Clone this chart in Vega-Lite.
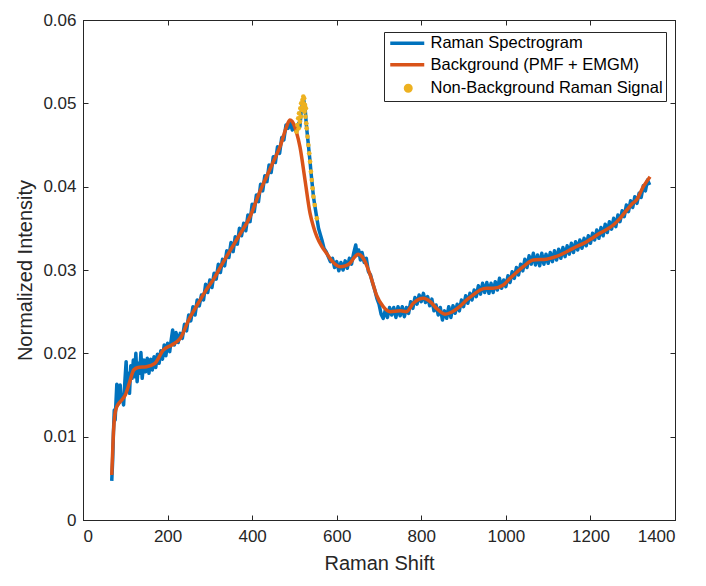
{
  "$schema": "https://vega.github.io/schema/vega-lite/v6.json",
  "width": 592,
  "height": 500,
  "autosize": "none",
  "padding": {"left": 83, "top": 20, "right": 31, "bottom": 66},
  "datasets": {
    "raman": [
      {"x":68,"y":0.0047},{"x":70,"y":0.0070},{"x":72,"y":0.0105},{"x":74,"y":0.0132},{"x":76,"y":0.0120},{"x":78,"y":0.0142},{"x":80,"y":0.0163},{"x":82,"y":0.0138},{"x":84,"y":0.0160},{"x":86,"y":0.0141},{"x":88,"y":0.0162},{"x":90,"y":0.0144},{"x":93,"y":0.0147},{"x":96,"y":0.0138},{"x":99,"y":0.0166},{"x":102,"y":0.0190},{"x":104,"y":0.0158},{"x":107,"y":0.0176},{"x":110,"y":0.0152},{"x":113,"y":0.0185},{"x":116,"y":0.0170},{"x":119,"y":0.0192},{"x":122,"y":0.0172},{"x":125,"y":0.0200},{"x":128,"y":0.0166},{"x":131,"y":0.0188},{"x":134,"y":0.0176},{"x":137,"y":0.0201},{"x":140,"y":0.0170},{"x":144,"y":0.0192},{"x":148,"y":0.0178},{"x":152,"y":0.0194},{"x":156,"y":0.0176},{"x":160,"y":0.0193},{"x":164,"y":0.0180},{"x":168,"y":0.0196},{"x":172,"y":0.0183},{"x":176,"y":0.0199},{"x":180,"y":0.0188},{"x":184,"y":0.0203},{"x":188,"y":0.0193},{"x":192,"y":0.0210},{"x":196,"y":0.0197},{"x":200,"y":0.0212},{"x":205,"y":0.0202},{"x":208,"y":0.0214},{"x":212,"y":0.0228},{"x":216,"y":0.0210},{"x":220,"y":0.0225},{"x":225,"y":0.0213},{"x":230,"y":0.0224},
      {"x":235,"y":0.0218},{"x":240,"y":0.0235},{"x":245,"y":0.0227},{"x":250,"y":0.0246},{"x":255,"y":0.0239},{"x":260,"y":0.0256},{"x":265,"y":0.0246},{"x":270,"y":0.0264},{"x":275,"y":0.0257},{"x":280,"y":0.0270},{"x":285,"y":0.0264},{"x":290,"y":0.0283},{"x":295,"y":0.0273},{"x":300,"y":0.0288},{"x":305,"y":0.0279},{"x":310,"y":0.0296},{"x":315,"y":0.0289},{"x":320,"y":0.0307},{"x":325,"y":0.0297},{"x":330,"y":0.0313},{"x":335,"y":0.0305},{"x":340,"y":0.0323},{"x":345,"y":0.0315},{"x":350,"y":0.0333},{"x":355,"y":0.0322},{"x":360,"y":0.0340},{"x":365,"y":0.0331},{"x":370,"y":0.0350},{"x":375,"y":0.0341},{"x":380,"y":0.0356},{"x":385,"y":0.0347},{"x":390,"y":0.0366},{"x":395,"y":0.0358},{"x":400,"y":0.0379},{"x":405,"y":0.0370},{"x":410,"y":0.0390},{"x":415,"y":0.0382},{"x":420,"y":0.0403},{"x":425,"y":0.0395},{"x":430,"y":0.0413},{"x":435,"y":0.0406},{"x":440,"y":0.0426},{"x":445,"y":0.0417},{"x":450,"y":0.0436},{"x":455,"y":0.0429},{"x":460,"y":0.0448},{"x":465,"y":0.0440},{"x":470,"y":0.0459},{"x":475,"y":0.0456},{"x":480,"y":0.0474},{"x":485,"y":0.0470},{"x":490,"y":0.0477},{"x":495,"y":0.0468},{"x":500,"y":0.0473},
      {"x":505,"y":0.0466},{"x":510,"y":0.0476},{"x":513,"y":0.0472},{"x":516,"y":0.0490},{"x":519,"y":0.0500},{"x":522,"y":0.0504},{"x":525,"y":0.0496},{"x":527,"y":0.0482},{"x":529,"y":0.0470},{"x":531,"y":0.0460},{"x":533,"y":0.0450},{"x":535,"y":0.0440},{"x":537,"y":0.0430},{"x":539,"y":0.0418},{"x":541,"y":0.0408},{"x":543,"y":0.0398},{"x":545,"y":0.0388},{"x":548,"y":0.0378},{"x":553,"y":0.0362},{"x":557,"y":0.0350},{"x":561,"y":0.0343},{"x":565,"y":0.0336},{"x":570,"y":0.0326},{"x":575,"y":0.0322},{"x":580,"y":0.0316},{"x":585,"y":0.0310},{"x":590,"y":0.0314},{"x":595,"y":0.0303},{"x":600,"y":0.0310},{"x":605,"y":0.0299},{"x":610,"y":0.0309},{"x":615,"y":0.0300},{"x":620,"y":0.0311},{"x":625,"y":0.0302},{"x":630,"y":0.0314},{"x":635,"y":0.0307},{"x":640,"y":0.0320},{"x":645,"y":0.0330},{"x":648,"y":0.0318},{"x":652,"y":0.0324},{"x":656,"y":0.0312},{"x":660,"y":0.0321},{"x":665,"y":0.0309},{"x":670,"y":0.0314},{"x":675,"y":0.0298},{"x":680,"y":0.0294},{"x":685,"y":0.0284},{"x":690,"y":0.0276},{"x":695,"y":0.0266},{"x":700,"y":0.0259},
      {"x":705,"y":0.0247},{"x":710,"y":0.0242},{"x":715,"y":0.0252},{"x":720,"y":0.0243},{"x":725,"y":0.0255},{"x":730,"y":0.0246},{"x":735,"y":0.0255},{"x":740,"y":0.0243},{"x":745,"y":0.0256},{"x":750,"y":0.0245},{"x":755,"y":0.0256},{"x":760,"y":0.0244},{"x":765,"y":0.0255},{"x":770,"y":0.0248},{"x":775,"y":0.0262},{"x":780,"y":0.0254},{"x":785,"y":0.0267},{"x":790,"y":0.0259},{"x":795,"y":0.0270},{"x":800,"y":0.0262},{"x":805,"y":0.0272},{"x":810,"y":0.0261},{"x":815,"y":0.0268},{"x":820,"y":0.0257},{"x":825,"y":0.0265},{"x":830,"y":0.0251},{"x":835,"y":0.0258},{"x":840,"y":0.0246},{"x":845,"y":0.0255},{"x":850,"y":0.0240},{"x":855,"y":0.0251},{"x":860,"y":0.0242},{"x":865,"y":0.0256},{"x":870,"y":0.0243},{"x":875,"y":0.0257},{"x":880,"y":0.0248},{"x":885,"y":0.0259},{"x":890,"y":0.0251},{"x":895,"y":0.0264},{"x":900,"y":0.0256},
      {"x":905,"y":0.0269},{"x":910,"y":0.0260},{"x":915,"y":0.0272},{"x":920,"y":0.0264},{"x":925,"y":0.0276},{"x":930,"y":0.0268},{"x":935,"y":0.0281},{"x":940,"y":0.0271},{"x":945,"y":0.0284},{"x":950,"y":0.0273},{"x":955,"y":0.0285},{"x":960,"y":0.0272},{"x":965,"y":0.0284},{"x":970,"y":0.0273},{"x":975,"y":0.0286},{"x":980,"y":0.0276},{"x":985,"y":0.0290},{"x":990,"y":0.0278},{"x":995,"y":0.0288},{"x":1000,"y":0.0280},{"x":1005,"y":0.0293},{"x":1010,"y":0.0285},{"x":1015,"y":0.0298},{"x":1020,"y":0.0290},{"x":1025,"y":0.0303},{"x":1030,"y":0.0294},{"x":1035,"y":0.0307},{"x":1040,"y":0.0299},{"x":1045,"y":0.0313},{"x":1050,"y":0.0303},{"x":1055,"y":0.0317},{"x":1060,"y":0.0307},{"x":1065,"y":0.0320},{"x":1070,"y":0.0306},{"x":1075,"y":0.0318},{"x":1080,"y":0.0305},{"x":1085,"y":0.0320},{"x":1090,"y":0.0307},{"x":1095,"y":0.0319},{"x":1100,"y":0.0308},
      {"x":1105,"y":0.0321},{"x":1110,"y":0.0310},{"x":1115,"y":0.0323},{"x":1120,"y":0.0312},{"x":1125,"y":0.0325},{"x":1130,"y":0.0314},{"x":1135,"y":0.0327},{"x":1140,"y":0.0316},{"x":1145,"y":0.0329},{"x":1150,"y":0.0319},{"x":1155,"y":0.0332},{"x":1160,"y":0.0321},{"x":1165,"y":0.0334},{"x":1170,"y":0.0324},{"x":1175,"y":0.0336},{"x":1180,"y":0.0326},{"x":1185,"y":0.0338},{"x":1190,"y":0.0329},{"x":1195,"y":0.0341},{"x":1200,"y":0.0332},{"x":1205,"y":0.0344},{"x":1210,"y":0.0336},{"x":1215,"y":0.0348},{"x":1220,"y":0.0338},{"x":1225,"y":0.0351},{"x":1230,"y":0.0341},{"x":1235,"y":0.0355},{"x":1240,"y":0.0345},{"x":1245,"y":0.0358},{"x":1250,"y":0.0349},{"x":1255,"y":0.0362},{"x":1260,"y":0.0352},{"x":1265,"y":0.0366},{"x":1270,"y":0.0358},{"x":1275,"y":0.0371},{"x":1280,"y":0.0364},{"x":1285,"y":0.0378},{"x":1290,"y":0.0370},{"x":1295,"y":0.0383},{"x":1300,"y":0.0375},{"x":1305,"y":0.0388},{"x":1310,"y":0.0380},{"x":1315,"y":0.0392},{"x":1320,"y":0.0387},{"x":1325,"y":0.0401},{"x":1330,"y":0.0395},{"x":1335,"y":0.0408},{"x":1340,"y":0.0402}
    ],
    "background": [
      {"x":68,"y":0.0054},{"x":70,"y":0.0080},{"x":72,"y":0.0105},{"x":75,"y":0.0125},{"x":80,"y":0.0136},{"x":90,"y":0.0143},{"x":100,"y":0.0150},{"x":110,"y":0.0165},{"x":120,"y":0.0180},{"x":130,"y":0.0183},{"x":150,"y":0.0184},{"x":170,"y":0.0188},{"x":190,"y":0.0204},{"x":210,"y":0.0210},{"x":230,"y":0.0218},{"x":250,"y":0.0240},{"x":270,"y":0.0258},{"x":290,"y":0.0275},{"x":310,"y":0.0290},{"x":330,"y":0.0308},{"x":350,"y":0.0325},{"x":370,"y":0.0342},{"x":395,"y":0.0364},{"x":415,"y":0.0390},{"x":434,"y":0.0412},{"x":450,"y":0.0430},{"x":466,"y":0.0448},{"x":480,"y":0.0470},{"x":489,"y":0.0480},{"x":495,"y":0.0478},{"x":505,"y":0.0465},{"x":513,"y":0.0448},{"x":525,"y":0.0408},{"x":537,"y":0.0368},{"x":545,"y":0.0352},{"x":553,"y":0.0340},{"x":565,"y":0.0328},{"x":576,"y":0.0320},{"x":590,"y":0.0310},{"x":608,"y":0.0304},{"x":620,"y":0.0305},{"x":631,"y":0.0308},{"x":643,"y":0.0316},{"x":651,"y":0.0319},{"x":660,"y":0.0316},{"x":667,"y":0.0310},{"x":675,"y":0.0300},{"x":683,"y":0.0288},{"x":694,"y":0.0270},{"x":710,"y":0.0256},{"x":726,"y":0.0250},{"x":750,"y":0.0251},{"x":765,"y":0.0250},{"x":781,"y":0.0260},{"x":795,"y":0.0265},{"x":805,"y":0.0266},{"x":821,"y":0.0262},{"x":836,"y":0.0254},{"x":856,"y":0.0247},{"x":870,"y":0.0249},{"x":880,"y":0.0252},{"x":895,"y":0.0258},{"x":907,"y":0.0264},{"x":925,"y":0.0271},{"x":939,"y":0.0276},{"x":955,"y":0.0278},{"x":970,"y":0.0278},{"x":994,"y":0.0282},{"x":1010,"y":0.0290},{"x":1025,"y":0.0297},{"x":1041,"y":0.0304},{"x":1065,"y":0.0312},{"x":1096,"y":0.0313},{"x":1128,"y":0.0318},{"x":1159,"y":0.0326},{"x":1191,"y":0.0334},{"x":1222,"y":0.0344},{"x":1254,"y":0.0354},{"x":1270,"y":0.0362},{"x":1286,"y":0.0372},{"x":1300,"y":0.0380},{"x":1309,"y":0.0384},{"x":1325,"y":0.0400},{"x":1341,"y":0.0412}
    ],
    "signal": [
      {"x":505,"y":0.0466},{"x":507,"y":0.0474},{"x":509,"y":0.0482},{"x":510,"y":0.0470},{"x":511,"y":0.0488},{"x":513,"y":0.0478},{"x":514,"y":0.0494},{"x":515,"y":0.0484},{"x":516,"y":0.0500},{"x":518,"y":0.0492},{"x":519,"y":0.0504},{"x":520,"y":0.0496},{"x":521,"y":0.0508},{"x":522,"y":0.0500},{"x":523,"y":0.0506},{"x":524,"y":0.0490},{"x":525,"y":0.0498},{"x":526,"y":0.0484},{"x":527,"y":0.0494},{"x":528,"y":0.0476},
      {"x":529,"y":0.0470},{"x":531,"y":0.0460},{"x":533,"y":0.0450},{"x":535,"y":0.0440},{"x":537,"y":0.0430},{"x":539,"y":0.0418},{"x":541,"y":0.0408},{"x":543,"y":0.0398},{"x":545,"y":0.0388},{"x":548,"y":0.0378},{"x":553,"y":0.0362}
    ]
  },
  "layer": [
    {
      "data": {"name": "raman"},
      "mark": {"type": "line", "strokeWidth": 3.5, "strokeJoin": "round"},
      "encoding": {
        "x": {
          "field": "x", "type": "quantitative",
          "scale": {"domain": [0, 1400], "nice": false, "zero": false},
          "axis": {"orient": "bottom", "title": "Raman Shift", "values": [0, 200, 400, 600, 800, 1000, 1200, 1400], "format": "d", "labelPadding": 13, "titlePadding": 9}
        },
        "y": {
          "field": "y", "type": "quantitative",
          "scale": {"domain": [0, 0.06], "nice": false},
          "axis": {"orient": "left", "title": "Normalized Intensity", "values": [0, 0.01, 0.02, 0.03, 0.04, 0.05, 0.06], "format": ".2~f", "labelPadding": 12, "titlePadding": 7}
        },
        "color": {
          "datum": "Raman Spectrogram",
          "scale": {
            "domain": ["Raman Spectrogram", "Background (PMF + EMGM)", "Non-Background Raman Signal"],
            "range": ["#0072BD", "#D95319", "#EDB120"]
          },
          "legend": {
            "title": null,
            "orient": "none",
            "legendX": 301,
            "legendY": 12,
            "symbolSize": 100,
            "symbolType": "M-1,0H5.8",
            "symbolStrokeWidth": 3.5,
            "labelFontSize": 16.5,
            "labelColor": "#000000",
            "labelLimit": 400,
            "labelOffset": 27,
            "rowPadding": 4.5,
            "padding": 3,
            "strokeColor": "#262626",
            "fillColor": "#ffffff",
            "encode": {
              "symbols": {
                "update": {
                  "shape": {"signal": "datum.value === 'Non-Background Raman Signal' ? 'M2.05,0A0.55,0.55 0 1,1 3.15,0A0.55,0.55 0 1,1 2.05,0Z' : 'M-1,0H5.8'"},
                  "fill": {"signal": "datum.value === 'Non-Background Raman Signal' ? '#EDB120' : 'transparent'"},
                  "stroke": {"signal": "datum.value === 'Non-Background Raman Signal' ? 'transparent' : scale('color', datum.value)"},
                  "strokeWidth": {"value": 3.5},
                  "opacity": {"value": 1}
                }
              }
            }
          }
        }
      }
    },
    {
      "data": {"name": "background"},
      "mark": {"type": "line", "strokeWidth": 3.5, "interpolate": "monotone", "strokeJoin": "round"},
      "encoding": {
        "x": {"field": "x", "type": "quantitative", "axis": {"orient": "top", "labels": false, "title": null, "values": [0, 200, 400, 600, 800, 1000, 1200, 1400]}},
        "y": {"field": "y", "type": "quantitative", "axis": {"orient": "right", "labels": false, "title": null, "values": [0, 0.01, 0.02, 0.03, 0.04, 0.05, 0.06]}},
        "color": {"datum": "Background (PMF + EMGM)"}
      }
    },
    {
      "data": {"name": "signal"},
      "mark": {"type": "point", "shape": "circle", "filled": true, "size": 22, "opacity": 1},
      "encoding": {
        "x": {"field": "x", "type": "quantitative", "axis": null},
        "y": {"field": "y", "type": "quantitative", "axis": null},
        "color": {"datum": "Non-Background Raman Signal"}
      }
    }
  ],
  "resolve": {"axis": {"x": "independent", "y": "independent"}},
  "config": {
    "font": "Liberation Sans",
    "view": {"stroke": "#262626", "strokeWidth": 1},
    "axis": {
      "grid": false,
      "domainColor": "#262626",
      "domainWidth": 1,
      "tickColor": "#262626",
      "tickSize": -5,
      "tickWidth": 1,
      "labelColor": "#262626",
      "labelFontSize": 17,
      "labelFont": "Liberation Sans",
      "titleColor": "#262626",
      "titleFontSize": 20,
      "titleFontWeight": "normal",
      "titleFont": "Liberation Sans"
    }
  }
}
